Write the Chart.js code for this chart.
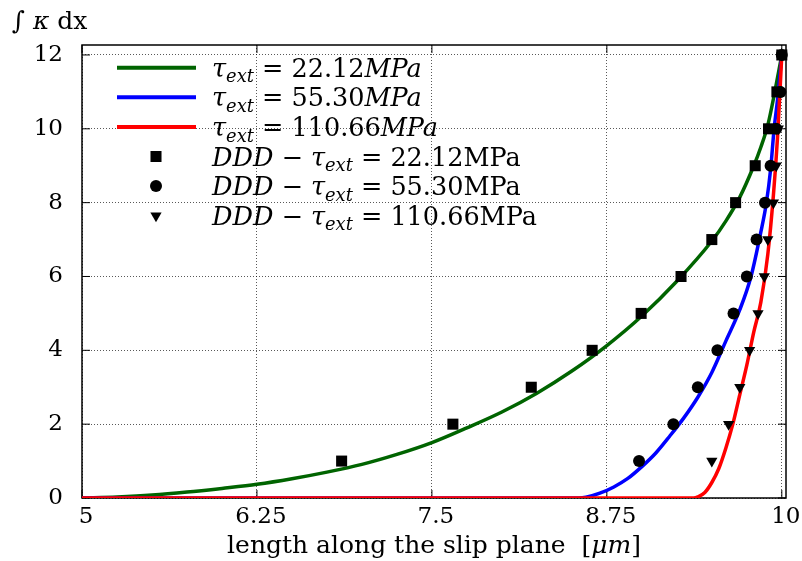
<!DOCTYPE html>
<html>
<head>
<meta charset="utf-8">
<script src="https://cdn.jsdelivr.net/npm/chart.js@4.4.1/dist/chart.umd.min.js"></script>
<style>
  body { margin: 0; background: #fff; }
</style>
</head>
<body>
<canvas id="myChart" width="802" height="561"></canvas>
<script>
const xTicks = [5, 6.25, 7.5, 8.75, 10];
const yTicks = [0, 2, 4, 6, 8, 10, 12];

// model curves
const greenX = [5.0, 5.25, 5.5, 5.75, 6.0, 6.25, 6.5, 6.75, 7.0, 7.25, 7.5, 7.75, 8.0, 8.25, 8.5, 8.75, 9.0, 9.25, 9.5, 9.6, 9.7, 9.8, 9.85, 9.9, 9.95, 9.98, 10.0];
const greenY = [0, 0.03, 0.08, 0.16, 0.26, 0.37, 0.52, 0.70, 0.91, 1.18, 1.50, 1.90, 2.33, 2.84, 3.44, 4.13, 4.93, 5.87, 6.96, 7.50, 8.15, 9.0, 9.5, 10.1, 11.0, 11.6, 12.0];

const blueX = [5.0, 8.55, 8.6, 8.7, 8.8, 8.9, 9.0, 9.1, 9.2, 9.3, 9.4, 9.5, 9.6, 9.7, 9.78, 9.85, 9.89, 9.92, 9.945, 9.97, 10.0];
const blueY = [0, 0, 0.02, 0.13, 0.30, 0.53, 0.85, 1.22, 1.68, 2.17, 2.73, 3.40, 4.25, 5.1, 6.0, 7.2, 8.0, 8.9, 10.0, 10.8, 12.0];

const redX = [5.0, 9.37, 9.4, 9.45, 9.5, 9.55, 9.6, 9.65, 9.7, 9.75, 9.8, 9.85, 9.9, 9.94, 9.97, 10.0];
const redY = [0, 0, 0.03, 0.15, 0.42, 0.80, 1.35, 2.0, 2.8, 3.6, 4.5, 5.3, 6.6, 8.2, 9.8, 12.0];

// DDD results
const dddY = [1, 2, 3, 4, 5, 6, 7, 8, 9, 10, 11, 12];
const ddd22X = [6.855, 7.65, 8.21, 8.645, 8.995, 9.28, 9.50, 9.67, 9.81, 9.905, 9.965, 10.0];
const ddd55X = [8.98, 9.225, 9.40, 9.54, 9.655, 9.75, 9.82, 9.88, 9.92, 9.96, 9.99, 10.0];
const ddd110X = [9.50, 9.62, 9.70, 9.77, 9.83, 9.875, 9.90, 9.94, 9.96, 9.975, 9.99, 10.0];

const lineLabels = ['*τ*_(ext) = 22.12*MPa*', '*τ*_(ext) = 55.30*MPa*', '*τ*_(ext) = 110.66*MPa*'];
const dddLabels = ['*DDD* − *τ*_(ext) = 22.12MPa', '*DDD* − *τ*_(ext) = 55.30MPa', '*DDD* − *τ*_(ext) = 110.66MPa'];
const yTitle = '∫ *κ* dx';
const xTitle = 'length along the slip plane  [*μm*]';

const FONT = '"DejaVu Serif", serif';

function pts(xs, ys) {
    return xs.map((x, i) => ({x: x, y: ys[i]}));
}

function parseRich(str) {
    const parts = [];
    let italic = false, buf = '';
    const flush = () => { if (buf) parts.push({t: buf, it: italic, sub: false}); buf = ''; };
    for (let i = 0; i < str.length; i++) {
        const c = str[i];
        if (c === '*') { flush(); italic = !italic; }
        else if (c === '_' && str[i + 1] === '(') {
            flush();
            const end = str.indexOf(')', i);
            parts.push({t: str.slice(i + 2, end), it: true, sub: true});
            i = end;
        } else buf += c;
    }
    flush();
    return parts;
}

function richWidth(ctx, str, size) {
    let w = 0;
    for (const p of parseRich(str)) {
        ctx.font = (p.it ? 'italic ' : '') + (p.sub ? size * 0.7 : size) + 'px ' + FONT;
        w += ctx.measureText(p.t).width;
    }
    return w;
}

function drawRich(ctx, str, x, y, size) {
    ctx.save();
    ctx.textBaseline = 'alphabetic';
    ctx.textAlign = 'left';
    ctx.fillStyle = '#000';
    for (const p of parseRich(str)) {
        ctx.font = (p.it ? 'italic ' : '') + (p.sub ? size * 0.7 : size) + 'px ' + FONT;
        ctx.fillText(p.t, x, p.sub ? y + size * 0.22 : y);
        x += ctx.measureText(p.t).width;
    }
    ctx.restore();
}

const lineSet = (label, xs, ys, color, order) => ({
    label: label, data: pts(xs, ys), showLine: true, borderColor: color, backgroundColor: color,
    borderWidth: 3.5, pointRadius: 0, cubicInterpolationMode: 'monotone', order: order
});
const dotSet = (label, xs, style, radius, rotation) => ({
    label: label, data: pts(xs, dddY), showLine: false, pointStyle: style, pointRadius: radius,
    rotation: rotation, pointBackgroundColor: '#000', pointBorderWidth: 0, clip: false, order: 0
});

const decor = {
    id: 'decor',
    beforeDatasetsDraw(chart) {
        const {ctx, chartArea: a, scales} = chart;
        ctx.save();
        ctx.strokeStyle = '#000';
        ctx.lineWidth = 1;
        ctx.beginPath();
        xTicks.forEach(v => {
            const px = scales.x.getPixelForValue(v);
            ctx.moveTo(px, a.bottom); ctx.lineTo(px, a.bottom - 8);
            ctx.moveTo(px, a.top); ctx.lineTo(px, a.top + 8);
        });
        yTicks.forEach(v => {
            const py = scales.y.getPixelForValue(v);
            ctx.moveTo(a.left, py); ctx.lineTo(a.left + 8, py);
            ctx.moveTo(a.right, py); ctx.lineTo(a.right - 8, py);
        });
        ctx.stroke();
        ctx.lineWidth = 1.5;
        ctx.strokeRect(a.left, a.top, a.width, a.height);
        ctx.restore();
    },
    afterDraw(chart) {
        const {ctx, chartArea: a} = chart;
        // legend
        const rows = chart.data.datasets;
        rows.forEach((ds, i) => {
            const cy = a.top + 22.7 + i * 29.6;
            ctx.save();
            if (ds.showLine) {
                ctx.strokeStyle = ds.borderColor;
                ctx.lineWidth = 4;
                ctx.beginPath();
                ctx.moveTo(a.left + 35, cy);
                ctx.lineTo(a.left + 114, cy);
                ctx.stroke();
            } else {
                ctx.fillStyle = '#000';
                Chart.helpers.drawPoint(ctx, {pointStyle: ds.pointStyle, radius: ds.pointRadius, rotation: ds.rotation, borderWidth: 0}, a.left + 74, cy);
            }
            ctx.restore();
            const text = i < 3 ? lineLabels[i] : dddLabels[i - 3];
            drawRich(ctx, text, a.left + 130, cy + 9, 25.5);
        });
        // titles
        drawRich(ctx, yTitle, 12, 29, 25);
        const w = richWidth(ctx, xTitle, 25);
        drawRich(ctx, xTitle, (a.left + a.right) / 2 - w / 2, 553, 25);
    }
};

const ctx = document.getElementById('myChart');

const myChart = new Chart(ctx, {
    type: 'scatter',
    data: {
        datasets: [
            lineSet(lineLabels[0], greenX, greenY, 'rgb(0, 100, 0)', 3),
            lineSet(lineLabels[1], blueX, blueY, 'rgb(0, 0, 255)', 2),
            lineSet(lineLabels[2], redX, redY, 'rgb(255, 0, 0)', 1),
            dotSet(dddLabels[0], ddd22X, 'rect', 7.8, 0),
            dotSet(dddLabels[1], ddd55X, 'circle', 6, 0),
            dotSet(dddLabels[2], ddd110X, 'triangle', 6.5, 180)
        ]
    },
    options: {
        responsive: false,
        animation: false,
        layout: {padding: {top: 45, right: 16, left: 0, bottom: 0}},
        plugins: {legend: {display: false}, tooltip: {enabled: false}},
        scales: {
            x: {
                type: 'linear', min: 5, max: 10.03,
                afterBuildTicks: s => { s.ticks = xTicks.map(v => ({value: v})); },
                afterFit: s => { s.height = 63; },
                grid: {color: 'rgba(0,0,0,0.65)', lineWidth: 1, drawTicks: false},
                border: {display: false, dash: [1, 2]},
                ticks: {font: {family: 'DejaVu Serif', size: 23}, color: '#000', padding: 5, labelOffset: 4,
                        maxRotation: 0, autoSkip: false, callback: v => String(v)}
            },
            y: {
                type: 'linear', min: 0, max: 12.27,
                afterBuildTicks: s => { s.ticks = yTicks.map(v => ({value: v})); },
                afterFit: s => { s.width = 82; },
                grid: {color: 'rgba(0,0,0,0.65)', lineWidth: 1, drawTicks: false},
                border: {display: false, dash: [1, 2]},
                ticks: {font: {family: 'DejaVu Serif', size: 23}, color: '#000', padding: 19, callback: v => String(v)}
            }
        }
    },
    plugins: [decor]
});
</script>
</body>
</html>
